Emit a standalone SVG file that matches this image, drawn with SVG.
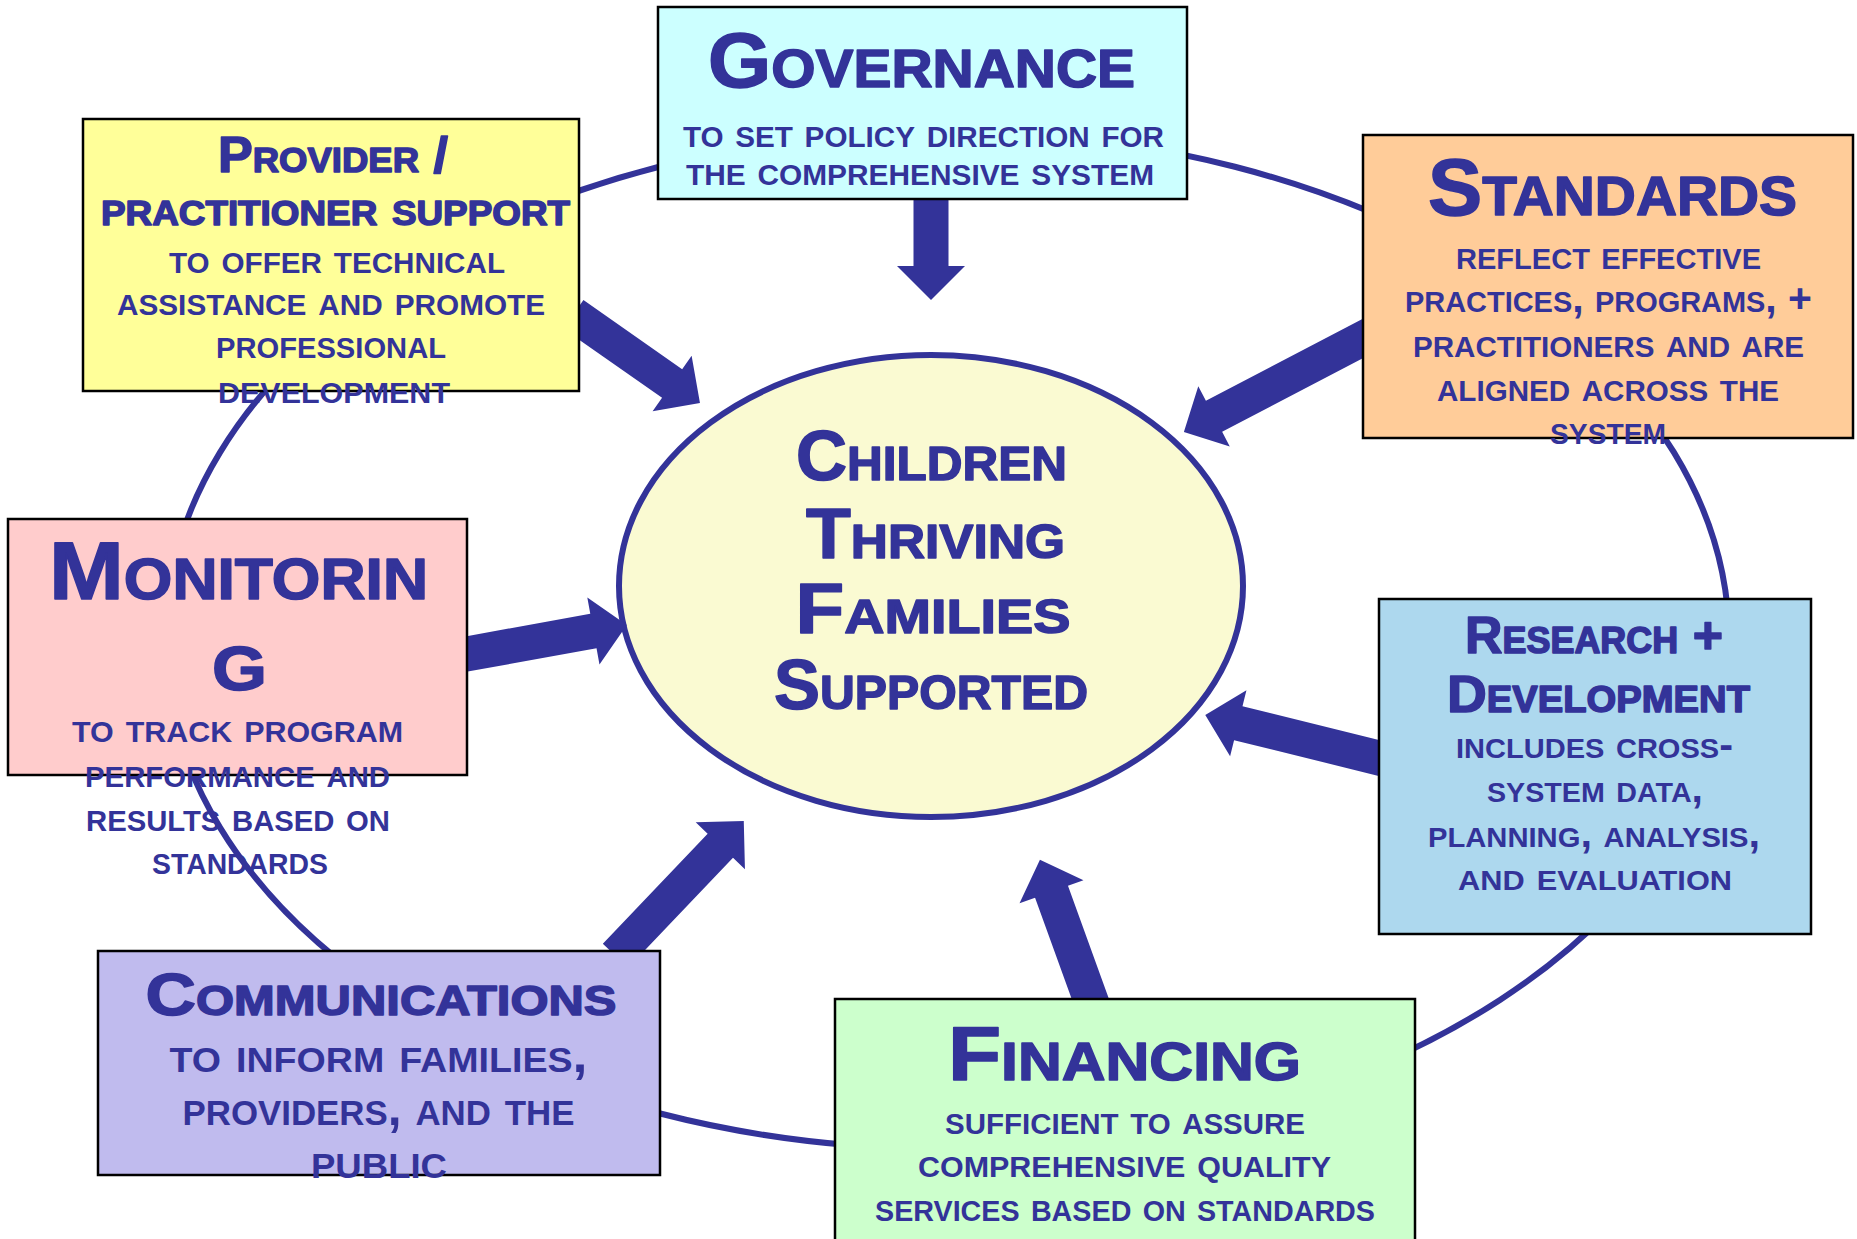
<svg xmlns="http://www.w3.org/2000/svg" width="1857" height="1239" viewBox="0 0 1857 1239">
<style>
.t{font-family:"Liberation Sans",Arial,sans-serif;font-weight:bold;font-variant:small-caps;fill:#333399;text-anchor:middle}
.h{stroke:#333399;stroke-width:1.5;stroke-linejoin:round}
.box{stroke:#000;stroke-width:2.5}
.arrow{fill:#333399}
</style>
<rect x="0" y="0" width="1857" height="1239" fill="#ffffff"/>
<g id="ring">
<ellipse cx="947" cy="640" rx="782" ry="509" fill="none" stroke="#333399" stroke-width="6"/>
</g>
<g id="center">
<ellipse cx="931" cy="586" rx="312" ry="231" fill="#FAFAD2" stroke="#333399" stroke-width="6"/>
<text class="t h" x="931.5" y="480" font-size="70" textLength="271" lengthAdjust="spacingAndGlyphs">Children</text>
<text class="t h" x="935.5" y="558" font-size="70" textLength="259" lengthAdjust="spacingAndGlyphs">Thriving</text>
<text class="t h" x="933" y="633" font-size="70" textLength="275" lengthAdjust="spacingAndGlyphs">Families</text>
<text class="t h" x="931" y="709" font-size="70" textLength="314" lengthAdjust="spacingAndGlyphs">Supported</text>
</g>
<g id="connectors">
<path class="arrow" transform="translate(931,192) rotate(90)" d="M0,-17.5 H74 V-34 L108,0 L74,34 V17.5 H0 Z"/>
<path class="arrow" transform="translate(573.4,314.4) rotate(35)" d="M0,-17.5 H120.5 V-34 L154.5,0 L120.5,34 V17.5 H0 Z"/>
<path class="arrow" transform="translate(1370,334.8) rotate(152.4)" d="M0,-17.5 H176 V-34 L210,0 L176,34 V17.5 H0 Z"/>
<path class="arrow" transform="translate(459,655.4) rotate(-10.3)" d="M0,-17.5 H136.6 V-34 L170.6,0 L136.6,34 V17.5 H0 Z"/>
<path class="arrow" transform="translate(1386.8,759.9) rotate(193.9)" d="M0,-17.5 H153 V-34 L187,0 L153,34 V17.5 H0 Z"/>
<path class="arrow" transform="translate(615.5,955.8) rotate(-46.4)" d="M0,-17.5 H152 V-34 L186,0 L152,34 V17.5 H0 Z"/>
<path class="arrow" transform="translate(1092.7,1005.5) rotate(-109.9)" d="M0,-17.5 H121 V-34 L155,0 L121,34 V17.5 H0 Z"/>
</g>
<g id="governance">
<rect class="box" x="658" y="7" width="529" height="192" fill="#CCFFFF"/>
<text class="t h" x="921.5" y="87" font-size="77" textLength="427" lengthAdjust="spacingAndGlyphs">Governance</text>
<text class="t" x="923.5" y="147" font-size="41" textLength="481" lengthAdjust="spacingAndGlyphs">to set policy direction for</text>
<text class="t" x="920" y="185" font-size="41" textLength="468" lengthAdjust="spacingAndGlyphs">the comprehensive system</text>
</g>
<g id="provider">
<rect class="box" x="83" y="119" width="496" height="272" fill="#FFFF99"/>
<text class="t h" x="333" y="172" font-size="50" textLength="230" lengthAdjust="spacingAndGlyphs">Provider /</text>
<text class="t h" x="335.5" y="225" font-size="50" textLength="469" lengthAdjust="spacingAndGlyphs">practitioner support</text>
<text class="t" x="337" y="273" font-size="42" textLength="336" lengthAdjust="spacingAndGlyphs">to offer technical</text>
<text class="t" x="331" y="315" font-size="42" textLength="428" lengthAdjust="spacingAndGlyphs">assistance and promote</text>
<text class="t" x="331" y="358" font-size="42" textLength="230" lengthAdjust="spacingAndGlyphs">professional</text>
<text class="t" x="334" y="403" font-size="42" textLength="232" lengthAdjust="spacingAndGlyphs">development</text>
</g>
<g id="standards">
<rect class="box" x="1363" y="135" width="490" height="303" fill="#FFCC99"/>
<text class="t h" x="1612.5" y="215" font-size="80" textLength="369" lengthAdjust="spacingAndGlyphs">Standards</text>
<text class="t" x="1608.5" y="269" font-size="41" textLength="305" lengthAdjust="spacingAndGlyphs">reflect effective</text>
<text class="t" x="1608.5" y="312" font-size="41" textLength="407" lengthAdjust="spacingAndGlyphs">practices, programs, +</text>
<text class="t" x="1608.5" y="357" font-size="41" textLength="391" lengthAdjust="spacingAndGlyphs">practitioners and are</text>
<text class="t" x="1608" y="401" font-size="41" textLength="342" lengthAdjust="spacingAndGlyphs">aligned across the</text>
<text class="t" x="1608" y="444" font-size="41" textLength="116" lengthAdjust="spacingAndGlyphs">system</text>
</g>
<g id="monitoring">
<rect class="box" x="8" y="519" width="459" height="256" fill="#FFCCCC"/>
<text class="t h" x="238.5" y="599" font-size="82" textLength="379" lengthAdjust="spacingAndGlyphs">Monitorin</text>
<text class="t h" x="239.5" y="690" font-size="90" textLength="55" lengthAdjust="spacingAndGlyphs">g</text>
<text class="t" x="237.5" y="742" font-size="43" textLength="331" lengthAdjust="spacingAndGlyphs">to track program</text>
<text class="t" x="237.5" y="787" font-size="43" textLength="305" lengthAdjust="spacingAndGlyphs">performance and</text>
<text class="t" x="238" y="831" font-size="43" textLength="304" lengthAdjust="spacingAndGlyphs">results based on</text>
<text class="t" x="240" y="874" font-size="43" textLength="176" lengthAdjust="spacingAndGlyphs">standards</text>
</g>
<g id="research">
<rect class="box" x="1379" y="599" width="432" height="335" fill="#ADD8EE"/>
<text class="t h" x="1594" y="653" font-size="52" textLength="258" lengthAdjust="spacingAndGlyphs">Research +</text>
<text class="t h" x="1598.5" y="712" font-size="52" textLength="303" lengthAdjust="spacingAndGlyphs">Development</text>
<text class="t" x="1594.5" y="758" font-size="40" textLength="277" lengthAdjust="spacingAndGlyphs">includes cross-</text>
<text class="t" x="1595" y="802" font-size="40" textLength="216" lengthAdjust="spacingAndGlyphs">system data,</text>
<text class="t" x="1594" y="847" font-size="40" textLength="332" lengthAdjust="spacingAndGlyphs">planning, analysis,</text>
<text class="t" x="1595" y="890" font-size="40" textLength="274" lengthAdjust="spacingAndGlyphs">and evaluation</text>
</g>
<g id="communications">
<rect class="box" x="98" y="951" width="562" height="224" fill="#C0BBEE"/>
<text class="t h" x="381" y="1015" font-size="60" textLength="471" lengthAdjust="spacingAndGlyphs">Communications</text>
<text class="t" x="378.5" y="1072" font-size="50" textLength="418" lengthAdjust="spacingAndGlyphs">to inform families,</text>
<text class="t" x="378.5" y="1125" font-size="50" textLength="392" lengthAdjust="spacingAndGlyphs">providers, and the</text>
<text class="t" x="379" y="1178" font-size="50" textLength="136" lengthAdjust="spacingAndGlyphs">public</text>
</g>
<g id="financing">
<rect class="box" x="835" y="999" width="580" height="260" fill="#CCFFCC"/>
<text class="t h" x="1124.5" y="1080" font-size="76" textLength="353" lengthAdjust="spacingAndGlyphs">Financing</text>
<text class="t" x="1125" y="1134" font-size="41" textLength="360" lengthAdjust="spacingAndGlyphs">sufficient to assure</text>
<text class="t" x="1124.5" y="1177" font-size="41" textLength="413" lengthAdjust="spacingAndGlyphs">comprehensive quality</text>
<text class="t" x="1125" y="1221" font-size="41" textLength="500" lengthAdjust="spacingAndGlyphs">services based on standards</text>
</g>
</svg>
